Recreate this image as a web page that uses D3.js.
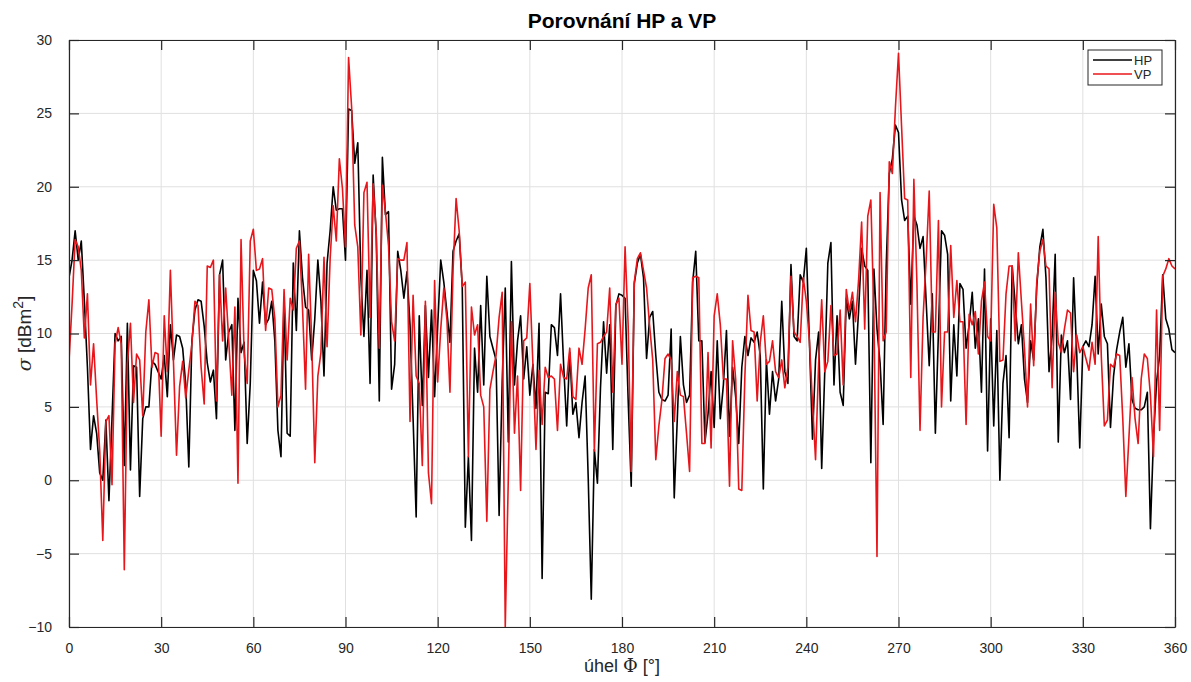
<!DOCTYPE html>
<html>
<head>
<meta charset="utf-8">
<script src="https://cdn.jsdelivr.net/npm/d3@7"></script>
<style>
  body { margin: 0; background: #fff; }
  svg text { font-family: "Liberation Sans", Arial, sans-serif; }
</style>
</head>
<body>
<svg id="chart" width="1191" height="682"></svg>
<script>
// Porovnání HP a VP - radar cross section vs. aspect angle, 1 deg step

const angles = d3.range(0, 361);

// HP (horizontal polarisation), dBm^2, 0..360 deg
const hpValues = [
  13.8, 15.0, 17.0, 15.0, 16.3, 12.2, 7.7, 2.1, 4.4, 3.2,        // 0-9
  0.5, 0.0, 4.1, -1.4, 4.2, 10.0, 9.5, 9.8, 1.0, 10.7,           // 10-19
  0.7, 7.8, 7.7, -1.1, 4.2, 5.0, 5.0, 8.1, 7.9, 7.4,             // 20-29
  6.9, 8.5, 5.7, 10.6, 8.2, 9.9, 9.8, 9.0, 6.5, 0.9,             // 30-39
  9.5, 11.6, 12.3, 12.2, 10.5, 8.0, 6.7, 7.5, 4.2, 14.0,         // 40-49
  15.0, 8.2, 10.1, 10.6, 3.4, 12.4, 8.7, 9.4, 2.5, 6.6,          // 50-59
  14.3, 13.6, 10.7, 13.5, 10.6, 11.0, 12.2, 9.5, 3.4, 1.6,       // 60-69
  12.4, 3.2, 3.0, 14.8, 10.2, 17.0, 13.8, 11.8, 11.6, 8.2,       // 70-79
  11.0, 15.0, 12.2, 7.1, 14.8, 17.0, 20.0, 18.4, 18.5, 18.5,     // 80-89
  15.0, 25.3, 25.2, 21.6, 23.0, 13.8, 9.8, 14.3, 6.6, 20.8,      // 90-99
  16.7, 5.4, 22.0, 18.1, 18.3, 6.2, 7.9, 15.6, 14.3, 12.4,       // 100-109
  14.2, 10.6, 4.2, -2.5, 11.2, 5.1, 11.9, 7.0, 11.6, 5.7,        // 110-119
  10.5, 15.0, 13.5, 11.5, 9.4, 15.6, 16.3, 16.8, 13.2, -3.2,     // 120-129
  1.6, -4.1, 9.0, 6.0, 11.9, 6.5, 13.9, 9.8, 9.0, 8.2,           // 130-139
  -2.4, 6.7, 13.1, 2.6, 14.9, 6.5, 9.5, 11.2, 6.9, 9.1,          // 140-149
  5.8, 7.9, 4.9, 10.7, -6.7, 6.0, 5.9, 10.6, 10.4, 8.5,          // 150-159
  12.7, 7.9, 3.7, 8.7, 4.5, 5.3, 2.9, 5.3, 7.1, 0.2,             // 160-169
  -8.1, 2.1, -0.2, 6.3, 10.8, 7.3, 10.6, 2.1, 11.9, 12.7,        // 170-179
  12.6, 12.4, 5.5, -0.4, 13.4, 14.8, 15.4, 13.8, 8.3, 11.1,      // 180-189
  11.5, 8.5, 6.0, 5.5, 5.4, 5.8, 10.3, -1.2, 4.2, 9.8,           // 190-199
  6.5, 5.3, 5.8, 13.5, 15.6, 9.5, 9.5, 2.6, 4.5, 7.4,            // 200-209
  3.6, 9.5, 4.2, 6.5, 10.2, 3.0, 7.7, 5.7, 2.5, 7.7,             // 210-219
  9.8, 8.5, 9.7, 9.4, 10.1, 8.5, -0.6, 8.2, 4.5, 7.4,            // 220-229
  5.4, 6.9, 12.2, 7.4, 6.6, 14.7, 9.8, 9.5, 14.0, 13.5,          // 230-239
  15.8, 9.5, 2.8, 8.2, 10.1, 0.8, 7.4, 14.8, 16.2, 6.5,          // 240-249
  11.2, 6.0, 5.1, 12.4, 11.0, 12.2, 7.9, 11.5, 15.8, 14.6,       // 250-259
  14.3, 1.2, 14.4, 10.3, 8.0, 3.8, 14.6, 20.9, 21.9, 24.2,       // 260-269
  23.7, 19.1, 17.7, 18.0, 12.0, 18.0, 17.4, 15.8, 16.6, 12.2,    // 270-279
  7.8, 12.7, 3.2, 10.1, 17.0, 16.7, 15.4, 5.4, 10.6, 7.1,        // 280-289
  13.4, 13.0, 9.0, 10.6, 12.8, 9.0, 11.0, 6.0, 14.4, 2.0,        // 290-299
  11.0, 3.7, 10.2, 0.0, 6.6, 8.5, 2.9, 14.6, 12.0, 9.3,          // 300-309
  10.6, 6.9, 5.3, 9.5, 8.2, 13.2, 15.9, 17.1, 13.8, 7.4,         // 310-319
  9.8, 15.4, 2.6, 9.9, 8.7, 9.5, 5.5, 13.8, 8.7, 2.2,            // 320-329
  9.1, 9.5, 9.1, 10.6, 13.9, 8.6, 12.0, 9.8, 9.3, 3.6,           // 330-339
  7.1, 8.9, 10.1, 11.1, 7.7, 9.3, 5.5, 4.9, 4.8, 4.8,            // 340-349
  5.0, 6.0, -3.3, 2.9, 6.7, 8.5, 14.0, 11.0, 10.3, 8.9,          // 350-359
  8.7                                                            // 360
];

// VP (vertical polarisation), dBm^2, 0..360 deg
const vpValues = [
  8.1, 12.0, 16.4, 15.9, 14.3, 9.7, 12.7, 6.5, 9.3, 5.5,         // 0-9
  2.0, -4.1, 4.0, 4.4, -0.3, 9.3, 10.4, 9.3, -6.1, 7.9,          // 10-19
  10.7, 5.3, 8.6, 8.2, 4.4, 10.1, 12.3, 7.7, 8.7, 8.6,           // 20-29
  3.0, 11.2, 7.4, 14.3, 8.1, 1.7, 6.4, 8.1, 5.6, 7.5,            // 30-39
  9.3, 12.2, 11.9, 7.7, 5.2, 14.6, 14.5, 15.0, 5.4, 14.0,        // 40-49
  9.5, 13.1, 9.5, 5.8, 11.8, -0.2, 16.4, 8.7, 6.6, 16.3,         // 50-59
  17.1, 14.3, 14.4, 15.1, 10.2, 13.1, 13.0, 11.0, 5.0, 5.8,      // 60-69
  13.0, 8.2, 12.4, 11.6, 15.8, 16.3, 11.8, 6.2, 15.4, 9.5,       // 70-79
  1.2, 7.1, 8.7, 15.2, 9.1, 15.1, 18.7, 16.3, 21.9, 19.9,        // 80-89
  15.9, 28.8, 25.4, 17.4, 15.9, 9.9, 19.6, 20.3, 11.1, 20.2,     // 90-99
  16.9, 9.0, 20.1, 18.3, 16.0, 10.8, 9.5, 15.1, 15.0, 15.0,      // 100-109
  16.2, 4.0, 12.6, 7.1, 6.6, 1.0, 12.2, 0.5, -1.6, 13.6,         // 110-119
  6.7, 10.3, 13.1, 11.0, 6.0, 14.3, 19.2, 17.0, 13.2, 13.5,      // 120-129
  1.6, 11.8, 9.9, 10.6, 5.8, 5.0, -2.8, 6.2, 7.4, 8.5,           // 130-139
  11.1, 12.8, -10.0, 0.2, 10.8, 3.2, 7.1, -0.7, 9.5, 9.7,        // 140-149
  13.4, 7.9, 2.1, 7.5, 3.8, 7.7, 7.0, 7.1, 6.9, 3.4,             // 150-159
  7.9, 7.0, 6.9, 9.0, 5.7, 5.5, 9.0, 7.9, 10.3, 13.1,            // 160-169
  14.0, 2.0, 9.3, 9.4, 9.8, 10.1, 13.1, 6.0, 12.0, 12.4,         // 170-179
  7.9, 15.9, 10.6, 0.6, 13.5, 15.1, 15.5, 14.3, 13.1, 10.5,      // 180-189
  8.2, 1.4, 3.7, 5.5, 8.3, 8.6, 8.2, 4.0, 7.4, 5.8,              // 190-199
  5.7, 3.2, 0.6, 13.8, 13.9, 13.8, 2.5, 2.5, 8.7, 2.2,           // 200-209
  11.2, 12.7, 10.6, 6.9, 6.9, -0.4, 9.5, 6.9, -0.6, -0.7,        // 210-219
  7.1, 12.6, 10.2, 10.1, 5.4, 9.4, 11.2, 7.9, 8.1, 9.5,          // 220-229
  7.4, 7.0, 8.2, 6.3, 7.7, 13.9, 10.1, 9.8, 9.4, 13.8,           // 230-239
  12.2, 9.5, 5.3, 1.4, 7.9, 12.3, 7.4, 8.1, 11.9, 8.5,           // 240-249
  8.6, 11.6, 6.5, 13.0, 11.5, 12.8, 10.8, 13.6, 17.6, 10.3,      // 250-259
  18.0, 19.1, 11.2, -5.2, 19.6, 9.5, 10.1, 21.7, 20.9, 25.4,     // 260-269
  29.1, 24.1, 19.2, 19.1, 7.0, 20.5, 13.4, 3.4, 11.1, 15.0,      // 270-279
  19.7, 10.1, 10.1, 17.7, 5.0, 10.1, 10.1, 16.0, 11.1, 13.6,     // 280-289
  10.8, 10.8, 3.8, 11.3, 10.6, 11.5, 8.6, 12.2, 13.5, 9.8,       // 290-299
  9.5, 18.8, 17.2, 8.1, 8.2, 12.7, 14.6, 14.6, 9.5, 15.5,        // 300-309
  12.2, 9.0, 5.0, 12.0, 7.8, 13.5, 15.6, 16.4, 14.6, 14.4,       // 310-319
  6.3, 12.8, 9.4, 8.7, 10.3, 11.6, 11.4, 7.4, 9.9, 8.7,          // 320-329
  9.1, 8.3, 7.5, 9.4, 7.9, 16.6, 8.5, 3.7, 4.1, 7.9,             // 330-339
  7.7, 8.6, 8.5, 4.2, -1.1, 2.9, 7.0, 4.2, 2.5, 6.9,             // 340-349
  8.6, 8.3, 5.8, 1.6, 11.6, 3.4, 13.9, 14.4, 15.1, 14.6,         // 350-359
  14.4                                                           // 360
];

const seriesNames = ['HP', 'VP'];
const seriesColors = ['#000000', '#e8161b'];
const xTicks = d3.range(0, 361, 30);
const yTicks = d3.range(-10, 31, 5);

const W = 1191, H = 682;
const margin = { left: 69, top: 40, right: W - 1175, bottom: H - 627 };
const iw = W - margin.left - margin.right;
const ih = H - margin.top - margin.bottom;

const svg = d3.select('#chart');

const x = d3.scaleLinear().domain([0, 360]).range([margin.left, margin.left + iw]);
const y = d3.scaleLinear().domain([-10, 30]).range([margin.top + ih, margin.top]);

// Grid
const grid = svg.append('g').attr('class', 'grid');
grid.selectAll('line.gx').data(xTicks).join('line')
  .attr('x1', d => x(d)).attr('x2', d => x(d))
  .attr('y1', margin.top).attr('y2', margin.top + ih)
  .attr('stroke', '#e0e0e0').attr('stroke-width', 1);
grid.selectAll('line.gy').data(yTicks).join('line')
  .attr('x1', margin.left).attr('x2', margin.left + iw)
  .attr('y1', d => y(d)).attr('y2', d => y(d))
  .attr('stroke', '#e0e0e0').attr('stroke-width', 1);

// Clip for lines
svg.append('defs').append('clipPath').attr('id', 'plot-clip')
  .append('rect')
  .attr('x', margin.left).attr('y', margin.top)
  .attr('width', iw).attr('height', ih);

const line = d3.line()
  .x((d, i) => x(angles[i]))
  .y(d => y(d));

const lines = svg.append('g').attr('clip-path', 'url(#plot-clip)');
[hpValues, vpValues].forEach((vals, k) => {
  lines.append('path')
    .datum(vals)
    .attr('d', line)
    .attr('fill', 'none')
    .attr('stroke', seriesColors[k])
    .attr('stroke-width', 1.6)
    .attr('stroke-linejoin', 'round');
});

// Axes (MATLAB style: ticks inside, on all four sides)
const tickLen = 10;
const axisColor = '#262626';

const xAxis = svg.append('g')
  .attr('transform', `translate(0,${margin.top + ih})`)
  .call(d3.axisBottom(x).tickValues(xTicks).tickSizeInner(-tickLen).tickSizeOuter(0).tickPadding(16));
const yAxis = svg.append('g')
  .attr('transform', `translate(${margin.left},0)`)
  .call(d3.axisLeft(y).tickValues(yTicks).tickSizeInner(-tickLen).tickSizeOuter(0).tickPadding(17));
const xTop = svg.append('g')
  .attr('transform', `translate(0,${margin.top})`)
  .call(d3.axisTop(x).tickValues(xTicks).tickSizeInner(-tickLen).tickSizeOuter(0).tickFormat(''));
const yRight = svg.append('g')
  .attr('transform', `translate(${margin.left + iw},0)`)
  .call(d3.axisRight(y).tickValues(yTicks).tickSizeInner(-tickLen).tickSizeOuter(0).tickFormat(''));

[xAxis, yAxis, xTop, yRight].forEach(a => {
  a.select('.domain').attr('stroke', axisColor).attr('stroke-width', 1.2);
  a.selectAll('.tick line').attr('stroke', axisColor).attr('stroke-width', 1.2);
  a.selectAll('.tick text')
    .attr('fill', axisColor)
    .style('font-size', '14px')
    .style('font-family', '"Liberation Sans", Arial, sans-serif');
});

// Title and labels
svg.append('text')
  .attr('x', margin.left + iw / 2).attr('y', 28)
  .attr('text-anchor', 'middle')
  .attr('fill', '#000')
  .style('font-size', '21px').style('font-weight', 'bold')
  .text('Porovnání HP a VP');

const xl = svg.append('text')
  .attr('x', margin.left + iw / 2).attr('y', 672)
  .attr('text-anchor', 'middle')
  .attr('fill', axisColor)
  .style('font-size', '18px');
xl.append('tspan').text('úhel ');
xl.append('tspan').style('font-family', '"DejaVu Serif", serif').text('Φ');
xl.append('tspan').text(' [°]');

const yl = svg.append('text')
  .attr('transform', `translate(31,${margin.top + ih / 2}) rotate(-90)`)
  .attr('text-anchor', 'middle')
  .attr('fill', axisColor)
  .style('font-size', '19px');
yl.append('tspan').style('font-style', 'italic').style('font-family', '"DejaVu Serif", serif').text('σ');
yl.append('tspan').text(' [dBm');
yl.append('tspan').attr('dy', -8).style('font-size', '14px').text('2');
yl.append('tspan').attr('dy', 8).text(']');

// Legend
const lg = svg.append('g').attr('transform', 'translate(1088,50)');
lg.append('rect')
  .attr('width', 74).attr('height', 35)
  .attr('fill', '#fff').attr('stroke', axisColor).attr('stroke-width', 1);
seriesNames.forEach((name, i) => {
  const ly = 10 + i * 14;
  lg.append('line')
    .attr('x1', 5).attr('x2', 44).attr('y1', ly).attr('y2', ly)
    .attr('stroke', seriesColors[i]).attr('stroke-width', 1.6);
  lg.append('text')
    .attr('x', 46).attr('y', ly + 5)
    .attr('fill', axisColor)
    .style('font-size', '13px')
    .text(name);
});
</script>
</body>
</html>
